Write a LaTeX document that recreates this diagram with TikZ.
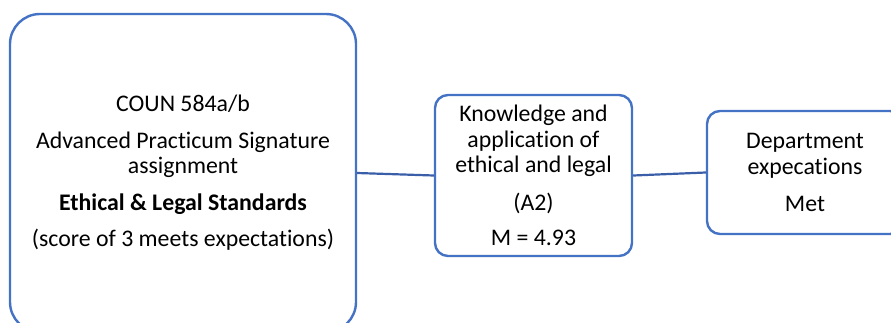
\documentclass[tikz,border=0pt]{standalone}
\usepackage{fontspec}
\setmainfont{Carlito}[Ligatures=NoCommon]
\usepackage{tikz}
\usetikzlibrary{arrows.meta}
\definecolor{col1}{HTML}{4472C4}
\definecolor{col2}{HTML}{3A5FA8}

\begin{document}
\begin{tikzpicture}[x=1pt, y=-1pt]
    \tikzstyle{bx} += [draw=col1, line width=2.4pt, fill=white, align=center,
                       font=\fontsize{23.8}{25.5}\selectfont, inner sep=0pt];
    \useasboundingbox (0,0) rectangle (891,322);
    \clip (0,0) rectangle (891,322);
    \node (sig) at (183, 173) [bx, rounded corners=30pt,
        minimum width=346pt, minimum height=318pt]
        {COUN 584a/b\\[11pt]
         Advanced Practicum Signature\\ assignment\\[11pt]
         \textbf{Ethical \& Legal Standards}\\[11pt]
         (score of 3 meets expectations)};
    \node (knw) at (533.5, 175.5) [bx, rounded corners=13pt,
        minimum width=197pt, minimum height=161pt]
        {Knowledge and\\ application of\\ ethical and legal\\[12pt]
         (A2)\\[10pt]
         M = 4.93};
    \node (dep) at (805, 172.5) [bx, rounded corners=13pt,
        minimum width=196pt, minimum height=123pt]
        {Department\\ expecations\\[12pt]
         Met};

    \begin{scope}[line width=2.2pt]
      \draw[col2] (sig.east) -- (knw.west);
      \draw[col2] (knw.east) -- (dep.west);
    \end{scope}
\end{tikzpicture}
\end{document}
